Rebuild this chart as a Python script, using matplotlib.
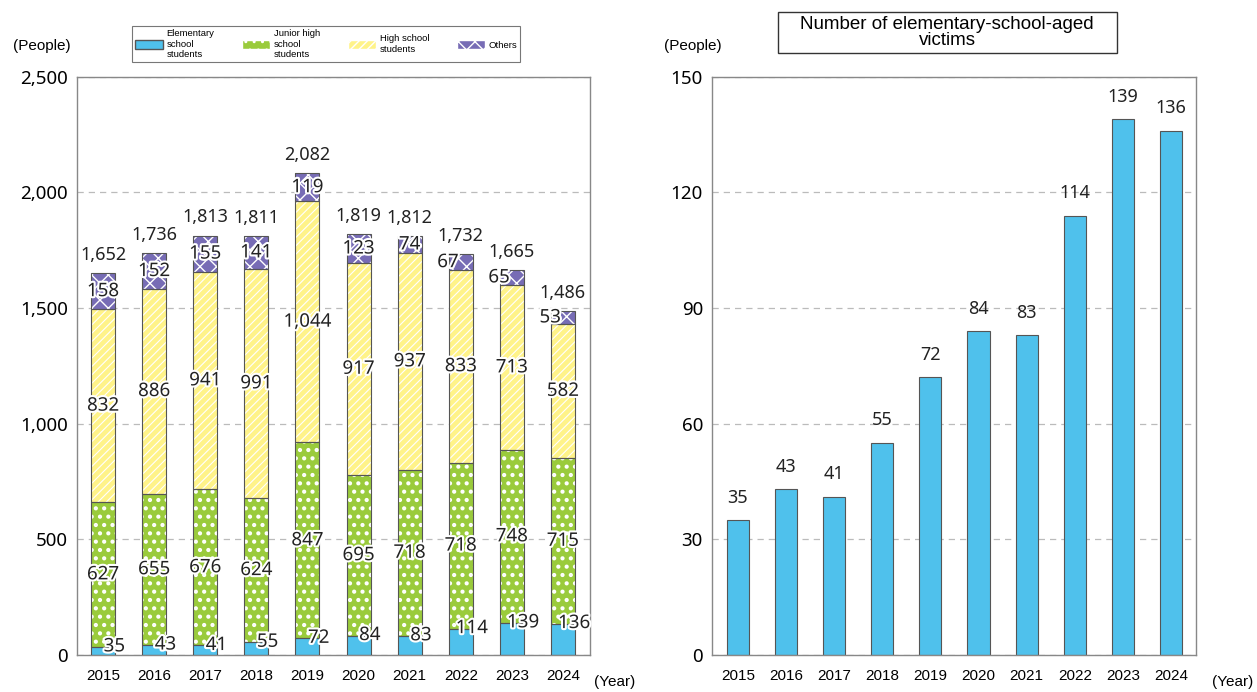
import matplotlib.pyplot as plt
import matplotlib.patheffects as pe
from matplotlib.patches import Patch, Rectangle
import numpy as np

years = ['2015', '2016', '2017', '2018', '2019', '2020', '2021', '2022', '2023', '2024']
elementary = [35, 43, 41, 55, 72, 84, 83, 114, 139, 136]
junior_high = [627, 655, 676, 624, 847, 695, 718, 718, 748, 715]
high_school = [832, 886, 941, 991, 1044, 917, 937, 833, 713, 582]
others = [158, 152, 155, 141, 119, 123, 74, 67, 65, 53]
totals = [1652, 1736, 1813, 1811, 2082, 1819, 1812, 1732, 1665, 1486]

c_blue = '#4fc1ec'
c_green = '#9acb3c'
c_yellow = '#fff389'
c_purple = '#776cb5'
c_edge = '#555555'
num_font = 'Noto Sans'
txt_font = 'Liberation Sans'

outline = [pe.withStroke(linewidth=3, foreground='white')]


def set_hlw(patches, lw):
    # per-artist hatch width (matplotlib >= 3.10)
    for p in patches:
        if hasattr(p, 'set_hatch_linewidth'):
            p.set_hatch_linewidth(lw)


fig = plt.figure(figsize=(12.57, 6.92), dpi=100)
ax1 = fig.add_axes([0.0613, 0.0535, 0.4081, 0.8355])
ax2 = fig.add_axes([0.5664, 0.0535, 0.3851, 0.8355])

x = np.arange(len(years))
w = 0.47

# stacked bars: hatch drawn in white, outline drawn separately
series = [(elementary, c_blue, None, 1.0),
          (junior_high, c_green, '..', 1.8),
          (high_school, c_yellow, '////', 0.8),
          (others, c_purple, 'xx', 1.0)]
bottom = np.zeros(len(years))
for vals, col, hatch, hlw in series:
    bars = ax1.bar(x, vals, w, bottom=bottom, color=col, hatch=hatch,
                   edgecolor='white', linewidth=0, zorder=2)
    set_hlw(bars, hlw)
    ax1.bar(x, vals, w, bottom=bottom, fill=False, edgecolor=c_edge,
            linewidth=0.8, zorder=3)
    bottom += np.array(vals)

# segment labels
bottom = np.zeros(len(years))
for k, (vals, col, hatch, hlw) in enumerate(series):
    for i, v in enumerate(vals):
        if k == 0:
            xp, yp = x[i] + 0.22, v + 2
        elif k == 3:
            xp, yp = x[i] - (0.25 if i >= 7 else 0), bottom[i] + v / 2
        else:
            xp, yp = x[i], bottom[i] + v / 2
        ax1.text(xp, yp, f'{v:,}', ha='center', va='center', fontsize=13.5,
                 family=num_font, color='#222222', path_effects=outline,
                 zorder=5)
    bottom += np.array(vals)

for i, t in enumerate(totals):
    ax1.text(x[i], t + 40, f'{t:,}', ha='center', va='bottom', fontsize=13,
             family=num_font, color='#222222')

ax1.set_ylim(0, 2500)
ax1.set_xlim(-0.51, 9.53)
ax1.set_yticks(range(0, 2501, 500))
ax1.set_yticklabels([f'{v:,}' for v in range(0, 2501, 500)])

# right chart
ax2.bar(x, elementary, 0.46, color=c_blue, edgecolor=c_edge, linewidth=0.8,
        zorder=2)
for i, v in enumerate(elementary):
    ax2.text(x[i], v + 3.5, str(v), ha='center', va='bottom', fontsize=13,
             family=num_font, color='#222222')
ax2.set_ylim(0, 150)
ax2.set_xlim(-0.54, 9.52)
ax2.set_yticks(range(0, 151, 30))

for ax in (ax1, ax2):
    ax.set_xticks(x)
    ax.set_xticklabels(years, family=txt_font, fontsize=11)
    for lab in ax.get_yticklabels():
        lab.set_family(num_font)
        lab.set_fontsize(13.5)
    ax.tick_params(length=0)
    ax.tick_params(axis='y', pad=6.5)
    ax.tick_params(axis='x', pad=10)
    ax.grid(axis='y', linestyle=(0, (5, 4)), color='#bbbbbb', linewidth=0.9,
            zorder=0)
    for s in ax.spines.values():
        s.set_color('#888888')
        s.set_linewidth(1.0)

fig.text(0.0334, 0.9335, '(People)', fontsize=11, family=txt_font,
         ha='center', va='center')
fig.text(0.551, 0.9335, '(People)', fontsize=11, family=txt_font,
         ha='center', va='center')
fig.text(0.489, 0.0145, '(Year)', fontsize=11, family=txt_font,
         ha='center', va='center')
fig.text(0.981, 0.0145, '(Year)', fontsize=11, family=txt_font,
         ha='center', va='center')

# legend
handles = [Patch(facecolor=c_blue, edgecolor=c_edge, label='Elementary\nschool\nstudents'),
           Patch(facecolor=c_green, edgecolor='white', hatch='..', label='Junior high\nschool\nstudents'),
           Patch(facecolor=c_yellow, edgecolor='white', hatch='////', label='High school\nstudents'),
           Patch(facecolor=c_purple, edgecolor='white', hatch='xx', label='Others')]
leg = fig.legend(handles=handles, ncol=4, loc='center',
                 bbox_to_anchor=(0.2594, 0.9364),
                 prop={'family': txt_font, 'size': 6.8},
                 frameon=True, fancybox=False, edgecolor='#555555',
                 handlelength=3.0, handleheight=1.0, columnspacing=2.9,
                 handletextpad=0.4, borderpad=0.3, labelspacing=0.1)
leg.get_frame().set_linewidth(0.8)

# title box of the right chart
fig.patches.append(Rectangle((778 / 1257, 1 - 53 / 692), 339 / 1257, 41 / 692,
                             transform=fig.transFigure, facecolor='white',
                             edgecolor='#333333', linewidth=1.0))
fig.text(0.7534, 0.953, 'Number of elementary-school-aged\nvictims',
         ha='center', va='center', fontsize=13.5, family=txt_font,
         linespacing=0.95)

plt.savefig('out.png', dpi=100)
